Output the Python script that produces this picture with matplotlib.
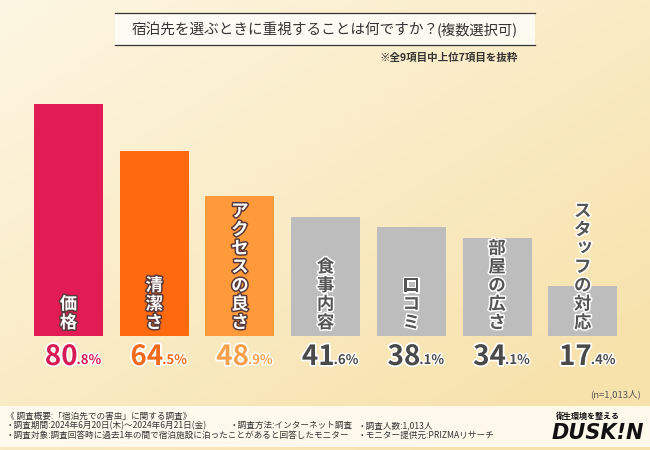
import numpy as np
import matplotlib.pyplot as plt
import matplotlib.patheffects as pe
from matplotlib.patches import Rectangle

plt.rcParams['font.family'] = ['Noto Sans CJK JP', 'DejaVu Sans']

# ── data ──────────────────────────────────────────────────────────────────────
categories = ['価格', '清潔さ', 'アクセスの良さ', '食事内容', '口コミ', '部屋の広さ', 'スタッフの対応']
values     = [80.8, 64.5, 48.9, 41.6, 38.1, 34.1, 17.4]
bar_colors = ['#E31B54', '#FF6A10', '#FF9A3A', '#BDBDBD', '#BDBDBD', '#BDBDBD', '#BDBDBD']
val_colors = ['#D81B55', '#F26A1B', '#F7A04C', '#4A4A4A', '#4A4A4A', '#4A4A4A', '#4A4A4A']

title     = '宿泊先を選ぶときに重視することは何ですか？'
title_sub = '(複数選択可)'
note      = '※全9項目中上位7項目を抜粋'
n_label   = '(n=1,013人)'
footer = [
    ['《 調査概要:「宿泊先での害虫」に関する調査》'],
    ['・調査期間:2024年6月20日(木)～2024年6月21日(金)', '・調査方法:インターネット調査', '・調査人数:1,013人'],
    ['・調査対象:調査回答時に過去1年の間で宿泊施設に泊ったことがあると回答したモニター', '・モニター提供元:PRIZMAリサーチ'],
]
footer_x = [[6], [6, 230, 358], [6, 358]]

W, H = 650, 450
fig = plt.figure(figsize=(W / 100, H / 100), dpi=100)

# ── background gradient ──────────────────────────────────────────────────────
bg = fig.add_axes([0, 0, 1, 1])
gx, gy = np.meshgrid(np.linspace(0, 1, 200), np.linspace(0, 1, 200))
t = np.clip(0.55 * gx + 0.6 * gy, 0, 1)[..., None]
c0 = np.array([253, 246, 226]) / 255
c1 = np.array([247, 226, 172]) / 255
bg.imshow(c0 * (1 - t) + c1 * t, extent=[0, W, H, 0], aspect='auto')
bg.set_xlim(0, W)
bg.set_ylim(H, 0)
bg.axis('off')

# title box
bg.add_patch(Rectangle((115, 13), 420, 32, color='white', alpha=0.75, lw=0))
bg.plot([115, 535], [13, 13], color='#333333', lw=0.9)
bg.plot([115, 535], [45, 45], color='#333333', lw=0.9)
tt = bg.text(132, 34, title, fontsize=10.5, color='#333333', ha='left', va='baseline')
fig.canvas.draw()
bb = tt.get_window_extent()
bg.text(bb.x1 - 2, 34, title_sub, fontsize=10.3, color='#333333', ha='left', va='baseline')
bg.text(518, 58, note, fontsize=7.6, color='#333333', ha='right', va='center', fontweight='bold')
bg.text(641, 394, n_label, fontsize=6.8, color='#555555', ha='right', va='center')

# footer strip
bg.add_patch(Rectangle((0, 406), W, 41, color='#FFFCF3', alpha=0.9, lw=0))
for i, (line, xs) in enumerate(zip(footer, footer_x)):
    y = 418.5 + i * 9.7
    for s, xx in zip(line, xs):
        bg.text(xx, y, s, fontsize=6.2, color='#333333', ha='left', va='baseline')

# logo
bg.text(556, 416, '衛生環境を整える', fontsize=5.8, color='#111111', fontweight='bold',
        ha='left', va='center', style='italic')
bg.text(552, 433, 'DUSK!N', fontsize=15, color='#111111', fontweight='heavy',
        ha='left', va='center', style='italic', family='DejaVu Sans')

# ── bars ─────────────────────────────────────────────────────────────────────
base_px = 336
px_per = 2.87
ymax = 90
ax = fig.add_axes([25.6 / W, (H - base_px) / H, 600 / W, ymax * px_per / H])
ax.patch.set_alpha(0)
x = np.arange(len(values))
ax.bar(x, values, width=0.805, color=bar_colors, zorder=2)
ax.set_xlim(-0.5, len(values) - 0.5)
ax.set_ylim(0, ymax)
ax.axis('off')

for i, (cat, v) in enumerate(zip(categories, values)):
    colored = i < 3
    fc = 'white' if colored else '#555555'
    sc = '#5a3a3a' if colored else 'white'
    n = len(cat)
    for k, ch in enumerate(cat):
        dy = 4 + 9 + (n - 1 - k) * 18.6
        dx = 0
        if ch in 'ッ':
            dx, dy = 2, dy + 2
        ax.annotate(ch, xy=(i, 0), xytext=(dx, dy), textcoords='offset pixels',
                    fontsize=12.5, color=fc, fontweight='bold', ha='center', va='center',
                    path_effects=[pe.withStroke(linewidth=2.2, foreground=sc)], zorder=4)

    big, small = f'{v:.1f}'.split('.')
    small = '.' + small + '%'
    ax.annotate(big, xy=(i, 0), xytext=(9, -21), textcoords='offset pixels',
                fontsize=20, color=val_colors[i], fontweight='bold', ha='right', va='center',
                path_effects=[pe.withStroke(linewidth=2.5, foreground='white')])
    ax.annotate(small, xy=(i, 0), xytext=(8, -24), textcoords='offset pixels',
                fontsize=9.5, color=val_colors[i], fontweight='bold', ha='left', va='center',
                path_effects=[pe.withStroke(linewidth=2, foreground='white')])

fig.savefig('out.png', dpi=100, facecolor='white')
